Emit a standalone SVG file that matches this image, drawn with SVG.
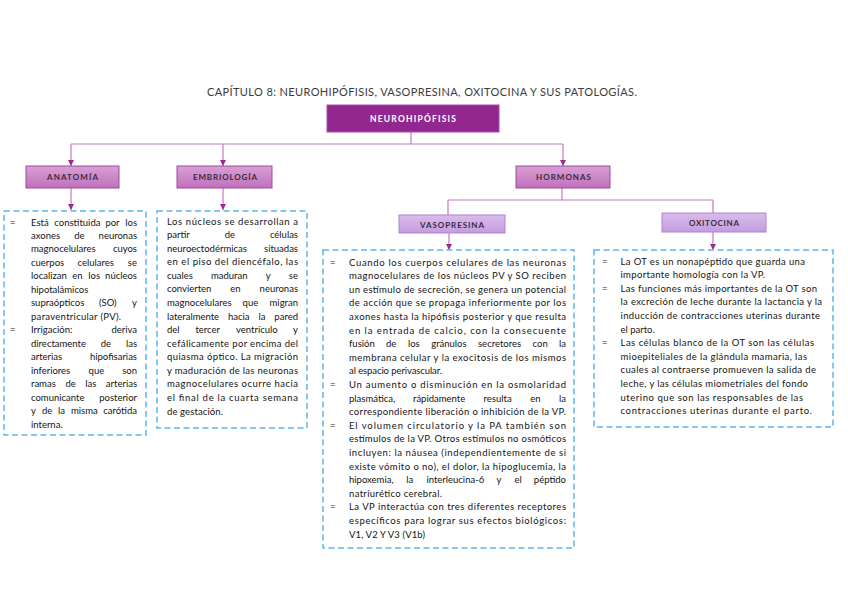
<svg xmlns="http://www.w3.org/2000/svg" width="848" height="599" viewBox="0 0 848 599">
<defs>
<style>
.t{font-family:Lato,"Open Sans","Liberation Sans",sans-serif;font-size:9.5px;fill:#141414}
.h{font-family:Lato,"Open Sans","Liberation Sans",sans-serif;font-size:8px;font-weight:700;fill:#3a2a3a}
.ttl{font-family:Lato,"Open Sans","Liberation Sans",sans-serif;font-size:11px;fill:#3c3c3c}
.box{fill:#fff;stroke:#5cb6ea;stroke-width:1.5;stroke-dasharray:6 3.5}
.conn{stroke:#c47bc0;stroke-width:1.2;fill:none}
.pk{fill:url(#pk);stroke:#9f4a9b;stroke-width:1}
.lv{fill:url(#lv);stroke:#ae85d0;stroke-width:1}
</style>
<linearGradient id="pk" x1="0" y1="0" x2="0" y2="1"><stop offset="0" stop-color="#d8a0d4"/><stop offset="1" stop-color="#c070bc"/></linearGradient>
<linearGradient id="lv" x1="0" y1="0" x2="0" y2="1"><stop offset="0" stop-color="#d9bcec"/><stop offset="1" stop-color="#c49cde"/></linearGradient>
<marker id="ah" viewBox="0 0 6 6" refX="6" refY="3" markerWidth="6" markerHeight="6" markerUnits="userSpaceOnUse" orient="auto"><path d="M0,0 L6,3 L0,6 z" fill="#9a2a96"/></marker>
</defs>
<rect width="848" height="599" fill="#fff"/>
<text class="ttl" x="207" y="96" textLength="430" lengthAdjust="spacing">CAPÍTULO 8: NEUROHIPÓFISIS, VASOPRESINA, OXITOCINA Y SUS PATOLOGÍAS.</text>

<g id="connectors">
<path class="conn" d="M411,132 V144 M71,144 H563"/>
<path class="conn" d="M71,144 V166" marker-end="url(#ah)"/>
<path class="conn" d="M223,144 V166" marker-end="url(#ah)"/>
<path class="conn" d="M563,144 V166" marker-end="url(#ah)"/>
<path class="conn" d="M71,188 V210" marker-end="url(#ah)"/>
<path class="conn" d="M223,188 V210" marker-end="url(#ah)"/>
<path class="conn" d="M562,188 V200 M448,200 H713 M448,200 V215 M713,200 V213"/>
<path class="conn" d="M449,233 V250" marker-end="url(#ah)"/>
<path class="conn" d="M713,232 V250" marker-end="url(#ah)"/>
</g>

<g id="neurohipofisis">
<rect x="327" y="105" width="172" height="27" fill="#92278f" stroke="#a84ca5" stroke-width="1"/>
<text x="413" y="121.5" text-anchor="middle" font-family="Lato,'Open Sans','Liberation Sans',sans-serif" font-size="8.5" font-weight="700" fill="#fff" textLength="86" lengthAdjust="spacing">NEUROHIPÓFISIS</text>
</g>

<g id="anatomia">
<rect class="pk" x="26" y="166" width="93" height="22"/>
<text class="h" x="72.5" y="180" text-anchor="middle" textLength="51" lengthAdjust="spacing">ANATOMÍA</text>
</g>
<g id="embriologia">
<rect class="pk" x="177" y="166" width="95" height="22"/>
<text class="h" x="225" y="180" text-anchor="middle" textLength="64" lengthAdjust="spacing">EMBRIOLOGÍA</text>
</g>
<g id="hormonas">
<rect class="pk" x="516" y="166" width="94" height="22"/>
<text class="h" x="563.5" y="180" text-anchor="middle" textLength="55" lengthAdjust="spacing">HORMONAS</text>
</g>
<g id="vasopresina">
<rect class="lv" x="399" y="215" width="106" height="18"/>
<text class="h" x="452" y="227.5" text-anchor="middle" textLength="64" lengthAdjust="spacing">VASOPRESINA</text>
</g>
<g id="oxitocina">
<rect class="lv" x="662" y="213" width="104" height="19"/>
<text class="h" x="714" y="225.5" text-anchor="middle" textLength="50" lengthAdjust="spacing">OXITOCINA</text>
</g>

<g id="anatomia-texto">
<rect class="box" x="4" y="211" width="142" height="224"/>
<text class="t" x="10" y="225.5">=</text>
<text class="t" y="225.5"><tspan x="31">Está</tspan><tspan x="54.3">constituida</tspan><tspan x="105.4">por</tspan><tspan x="137" text-anchor="end">los</tspan></text>
<text class="t" y="239"><tspan x="31">axones</tspan><tspan x="74.2">de</tspan><tspan x="137" text-anchor="end">neuronas</tspan></text>
<text class="t" y="252.4"><tspan x="31">magnocelulares</tspan><tspan x="137" text-anchor="end">cuyos</tspan></text>
<text class="t" y="265.9"><tspan x="31">cuerpos</tspan><tspan x="77.6">celulares</tspan><tspan x="137" text-anchor="end">se</tspan></text>
<text class="t" y="279.4"><tspan x="31">localizan</tspan><tspan x="72.2">en</tspan><tspan x="88.3">los</tspan><tspan x="137" text-anchor="end">núcleos</tspan></text>
<text class="t" x="31" y="292.9">hipotalámicos</text>
<text class="t" y="306.3"><tspan x="31">supraópticos</tspan><tspan x="99">(SO)</tspan><tspan x="137" text-anchor="end">y</tspan></text>
<text class="t" x="31" y="319.8" textLength="90" lengthAdjust="spacing">paraventricular (PV).</text>
<text class="t" x="10" y="333.3">=</text>
<text class="t" y="333.3"><tspan x="31">Irrigación:</tspan><tspan x="137" text-anchor="end">deriva</tspan></text>
<text class="t" y="346.7"><tspan x="31">directamente</tspan><tspan x="100.7">de</tspan><tspan x="137" text-anchor="end">las</tspan></text>
<text class="t" y="360.2"><tspan x="31">arterias</tspan><tspan x="137" text-anchor="end">hipofisarias</tspan></text>
<text class="t" y="373.7"><tspan x="31">inferiores</tspan><tspan x="88.6">que</tspan><tspan x="137" text-anchor="end">son</tspan></text>
<text class="t" y="387.1"><tspan x="31">ramas</tspan><tspan x="65.4">de</tspan><tspan x="85.3">las</tspan><tspan x="137" text-anchor="end">arterias</tspan></text>
<text class="t" y="400.6"><tspan x="31">comunicante</tspan><tspan x="137" text-anchor="end">posterior</tspan></text>
<text class="t" y="414.1"><tspan x="31">y</tspan><tspan x="41.9">de</tspan><tspan x="58.1">la</tspan><tspan x="71">misma</tspan><tspan x="137" text-anchor="end">carótida</tspan></text>
<text class="t" x="31" y="427.5">interna.</text>
</g>

<g id="embriologia-texto">
<rect class="box" x="157" y="211" width="150" height="217"/>
<text class="t" x="167" y="224.5" textLength="131" lengthAdjust="spacing">Los núcleos se desarrollan a</text>
<text class="t" y="238.1"><tspan x="167">partir</tspan><tspan x="224.8">de</tspan><tspan x="298" text-anchor="end">células</tspan></text>
<text class="t" y="251.6"><tspan x="167">neuroectodérmicas</tspan><tspan x="298" text-anchor="end">situadas</tspan></text>
<text class="t" x="167" y="265.2" textLength="131" lengthAdjust="spacing">en el piso del diencéfalo, las</text>
<text class="t" y="278.8"><tspan x="167">cuales</tspan><tspan x="210.9">maduran</tspan><tspan x="265.7">y</tspan><tspan x="298" text-anchor="end">se</tspan></text>
<text class="t" y="292.4"><tspan x="167">convierten</tspan><tspan x="230.3">en</tspan><tspan x="298" text-anchor="end">neuronas</tspan></text>
<text class="t" y="305.9"><tspan x="167">magnocelulares</tspan><tspan x="242.6">que</tspan><tspan x="298" text-anchor="end">migran</tspan></text>
<text class="t" y="319.5"><tspan x="167">lateralmente</tspan><tspan x="228">hacia</tspan><tspan x="258.4">la</tspan><tspan x="298" text-anchor="end">pared</tspan></text>
<text class="t" y="333.1"><tspan x="167">del</tspan><tspan x="195.4">tercer</tspan><tspan x="236">ventrículo</tspan><tspan x="298" text-anchor="end">y</tspan></text>
<text class="t" x="167" y="346.6" textLength="131" lengthAdjust="spacing">cefálicamente por encima del</text>
<text class="t" x="167" y="360.2" textLength="131" lengthAdjust="spacing">quiasma óptico. La migración</text>
<text class="t" x="167" y="373.8" textLength="131" lengthAdjust="spacing">y maduración de las neuronas</text>
<text class="t" x="167" y="387.3" textLength="131" lengthAdjust="spacing">magnocelulares ocurre hacia</text>
<text class="t" x="167" y="400.9" textLength="131" lengthAdjust="spacing">el final de la cuarta semana</text>
<text class="t" x="167" y="414.5" textLength="56" lengthAdjust="spacing">de gestación.</text>
</g>

<g id="vasopresina-texto">
<rect class="box" x="323" y="250" width="251" height="298"/>
<text class="t" x="330" y="265.5">=</text>
<text class="t" x="349" y="265.5" textLength="217" lengthAdjust="spacing">Cuando los cuerpos celulares de las neuronas</text>
<text class="t" x="349" y="279.1" textLength="217" lengthAdjust="spacing">magnocelulares de los núcleos PV y SO reciben</text>
<text class="t" x="349" y="292.7" textLength="217" lengthAdjust="spacing">un estímulo de secreción, se genera un potencial</text>
<text class="t" x="349" y="306.3" textLength="217" lengthAdjust="spacing">de acción que se propaga inferiormente por los</text>
<text class="t" x="349" y="319.9" textLength="217" lengthAdjust="spacing">axones hasta la hipófisis posterior y que resulta</text>
<text class="t" x="349" y="333.5" textLength="217" lengthAdjust="spacing">en la entrada de calcio, con la consecuente</text>
<text class="t" y="347.1"><tspan x="349">fusión</tspan><tspan x="385.9">de</tspan><tspan x="407.9">los</tspan><tspan x="431.2">gránulos</tspan><tspan x="478">secretores</tspan><tspan x="532.6">con</tspan><tspan x="566" text-anchor="end">la</tspan></text>
<text class="t" x="349" y="360.7" textLength="217" lengthAdjust="spacing">membrana celular y la exocitosis de los mismos</text>
<text class="t" x="349" y="374.3" textLength="93" lengthAdjust="spacing">al espacio perivascular.</text>
<text class="t" x="330" y="387.9">=</text>
<text class="t" x="349" y="387.9" textLength="217" lengthAdjust="spacing">Un aumento o disminución en la osmolaridad</text>
<text class="t" y="401.5"><tspan x="349">plasmática,</tspan><tspan x="413">rápidamente</tspan><tspan x="483.6">resulta</tspan><tspan x="530.3">en</tspan><tspan x="566" text-anchor="end">la</tspan></text>
<text class="t" x="349" y="415.1" textLength="217" lengthAdjust="spacing">correspondiente liberación o inhibición de la VP.</text>
<text class="t" x="330" y="428.7">=</text>
<text class="t" x="349" y="428.7" textLength="217" lengthAdjust="spacing">El volumen circulatorio y la PA también son</text>
<text class="t" x="349" y="442.3" textLength="217" lengthAdjust="spacing">estímulos de la VP. Otros estímulos no osmóticos</text>
<text class="t" x="349" y="455.9" textLength="217" lengthAdjust="spacing">incluyen: la náusea (independientemente de si</text>
<text class="t" x="349" y="469.5" textLength="217" lengthAdjust="spacing">existe vómito o no), el dolor, la hipoglucemia, la</text>
<text class="t" y="483.1"><tspan x="349">hipoxemia,</tspan><tspan x="406.3">la</tspan><tspan x="426.4">interleucina-6</tspan><tspan x="496.4">y</tspan><tspan x="514.4">el</tspan><tspan x="566" text-anchor="end">péptido</tspan></text>
<text class="t" x="349" y="496.7" textLength="93" lengthAdjust="spacing">natriurético cerebral.</text>
<text class="t" x="330" y="510.3">=</text>
<text class="t" x="349" y="510.3" textLength="217" lengthAdjust="spacing">La VP interactúa con tres diferentes receptores</text>
<text class="t" x="349" y="523.9" textLength="217" lengthAdjust="spacing">específicos para lograr sus efectos biológicos:</text>
<text class="t" x="349" y="537.5" textLength="76" lengthAdjust="spacing">V1, V2 Y V3 (V1b)</text>
</g>

<g id="oxitocina-texto">
<rect class="box" x="594" y="250" width="239" height="177"/>
<text class="t" x="602" y="264.5">=</text>
<text class="t" x="620.5" y="264.5" textLength="184.5" lengthAdjust="spacing">La OT es un nonapéptido que guarda una</text>
<text class="t" x="620.5" y="278.1" textLength="144.5" lengthAdjust="spacing">importante homología con la VP.</text>
<text class="t" x="602" y="291.7">=</text>
<text class="t" x="620.5" y="291.7" textLength="196.5" lengthAdjust="spacing">Las funciones más importantes de la OT son</text>
<text class="t" x="620.5" y="305.3" textLength="201.5" lengthAdjust="spacing">la excreción de leche durante la lactancia y la</text>
<text class="t" x="620.5" y="318.9" textLength="199.5" lengthAdjust="spacing">inducción de contracciones uterinas durante</text>
<text class="t" x="620.5" y="332.5">el parto.</text>
<text class="t" x="602" y="346.1">=</text>
<text class="t" x="620.5" y="346.1" textLength="193.5" lengthAdjust="spacing">Las células blanco de la OT son las células</text>
<text class="t" x="620.5" y="359.7" textLength="186.5" lengthAdjust="spacing">mioepiteliales de la glándula mamaria, las</text>
<text class="t" x="620.5" y="373.3" textLength="195.5" lengthAdjust="spacing">cuales al contraerse promueven la salida de</text>
<text class="t" x="620.5" y="386.9" textLength="187.5" lengthAdjust="spacing">leche, y las células miometriales del fondo</text>
<text class="t" x="620.5" y="400.5" textLength="182.5" lengthAdjust="spacing">uterino que son las responsables de las</text>
<text class="t" x="620.5" y="414.1" textLength="191.5" lengthAdjust="spacing">contracciones uterinas durante el parto.</text>
</g>
</svg>
